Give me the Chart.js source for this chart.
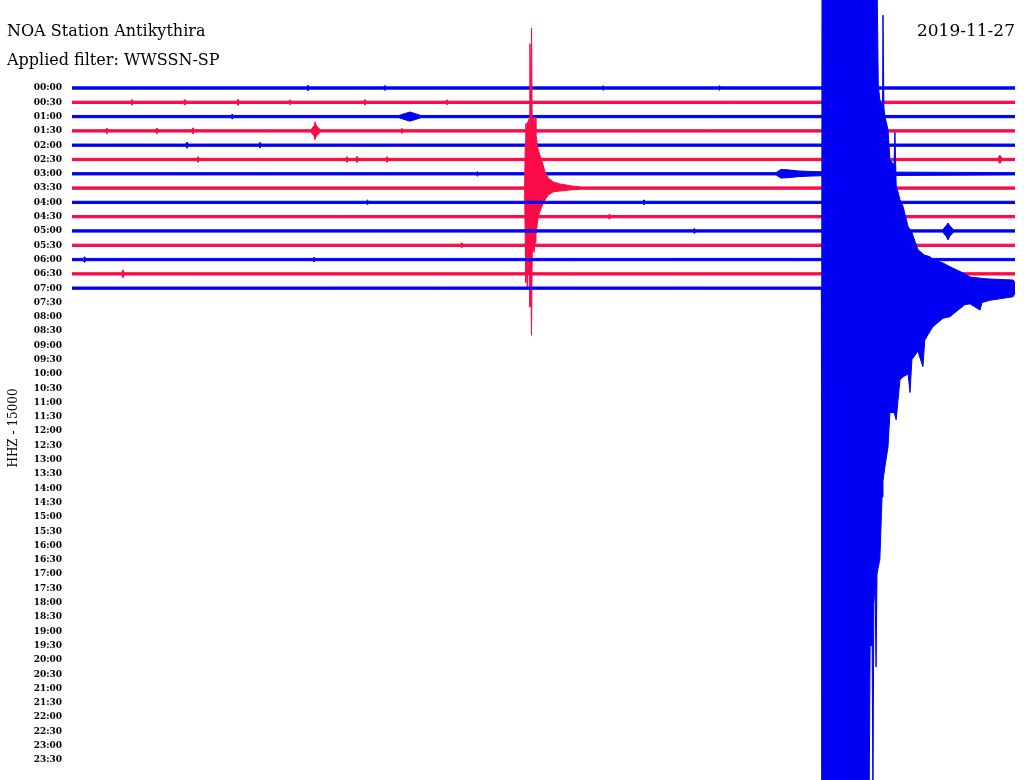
<!DOCTYPE html>
<html>
<head>
<meta charset="utf-8">
<title>NOA Station Antikythira</title>
<script src="https://cdn.jsdelivr.net/npm/chart.js@4"></script>
<style>
  body { margin: 0; background: #fff; }
  canvas { display: block; }
</style>
</head>
<body>
<canvas id="heli" width="1024" height="780"></canvas>
<script>
// Helicorder rows, one trace every 30 minutes
const rowLabels = [
  '00:00', '00:30', '01:00', '01:30', '02:00', '02:30', '03:00', '03:30',
  '04:00', '04:30', '05:00', '05:30', '06:00', '06:30', '07:00', '07:30',
  '08:00', '08:30', '09:00', '09:30', '10:00', '10:30', '11:00', '11:30',
  '12:00', '12:30', '13:00', '13:30', '14:00', '14:30', '15:00', '15:30',
  '16:00', '16:30', '17:00', '17:30', '18:00', '18:30', '19:00', '19:30',
  '20:00', '20:30', '21:00', '21:30', '22:00', '22:30', '23:00', '23:30'
];
const recordedRows = 15;      // 00:00 .. 07:00 have data
const rowMinutes = 30;
const noiseLevel = 0.08;      // background half-amplitude, in trace spacings

// short noise spikes on the quiet traces: row, minute, half-amplitude
const spikeRows = [0, 0, 0, 1, 1, 1, 1, 1, 1, 3, 3, 3, 3, 4, 4, 5, 5, 5, 5,
  8, 9, 11, 12, 13, 0, 2, 6, 8, 10, 12];
const spikeMin = [7.51, 9.96, 16.9, 1.91, 3.59, 5.28, 6.94, 9.32, 11.93, 1.11, 2.70, 3.85, 10.50,
  3.66, 5.98, 4.01, 8.75, 9.07, 10.02, 18.2, 17.1, 12.4, 0.4, 1.62, 20.6, 5.1, 12.9, 9.4, 19.8, 7.7];
const spikeAmp = [0.2, 0.18, 0.16, 0.2, 0.2, 0.22, 0.18, 0.2, 0.18, 0.2, 0.2, 0.22, 0.18,
  0.22, 0.2, 0.2, 0.2, 0.22, 0.2, 0.18, 0.18, 0.18, 0.2, 0.28, 0.16, 0.18, 0.16, 0.16, 0.18, 0.16];

// small local events: row, minutes into the row, amplitude above / below the trace
const blipRows = [2, 3, 5, 6, 10];
const blipMin = [
  [10.40, 10.60, 10.75, 10.90, 11.10],
  [7.60, 7.70, 7.73, 7.78, 7.90],
  [29.45, 29.52, 29.58],
  [22.40, 22.55, 22.75, 23.10, 23.50, 23.84],
  [27.70, 27.82, 27.87, 27.93, 28.05]
];
const blipUp = [
  [0.08, 0.22, 0.32, 0.22, 0.08],
  [0.08, 0.35, 0.64, 0.35, 0.08],
  [0.08, 0.30, 0.08],
  [0.08, 0.30, 0.28, 0.20, 0.16, 0.14],
  [0.08, 0.40, 0.56, 0.35, 0.08]
];
const blipDown = [
  [0.08, 0.22, 0.32, 0.22, 0.08],
  [0.08, 0.35, 0.59, 0.35, 0.08],
  [0.08, 0.28, 0.08],
  [0.08, 0.30, 0.28, 0.20, 0.16, 0.14],
  [0.08, 0.40, 0.63, 0.35, 0.08]
];

// regional earthquake on the 03:30 row
const quakeRow = 7;
const quakeMin = [14.40, 14.42, 14.44, 14.46, 14.48, 14.50, 14.52, 14.55, 14.57, 14.59,
  14.62, 14.64, 14.67, 14.70, 14.73, 14.76, 14.78, 14.83, 14.94, 15.05,
  15.15, 15.31, 15.52, 15.90, 16.20];
const quakeUp = [0.08, 3.0, 4.5, 3.8, 4.6, 4.0, 4.8, 4.3, 10.1, 5.0,
  11.2, 4.6, 4.9, 4.2, 4.97, 3.8, 3.4, 2.66, 1.96, 1.13,
  0.71, 0.43, 0.29, 0.15, 0.08];
const quakeDown = [0.08, 4.0, 6.6, 4.2, 7.0, 4.5, 6.0, 4.0, 8.3, 5.5,
  10.3, 4.6, 4.0, 4.5, 3.8, 3.3, 2.9, 2.0, 1.32, 0.83,
  0.48, 0.27, 0.20, 0.12, 0.08];

// large teleseism on the 07:00 row (clipped at the frame)
const mainRow = 14;
const mainMin = [23.84, 23.86, 25.36, 25.39, 25.42, 25.45, 25.48, 25.51, 25.55, 25.58,
  25.61, 25.65, 25.70, 25.77, 25.80, 25.83, 25.86, 25.96, 26.02, 26.15,
  26.18, 26.22, 26.34, 26.44, 26.60, 26.66, 26.72, 26.91, 27.07, 27.13,
  27.30, 27.39, 27.71, 27.93, 28.15, 28.41, 28.57, 28.89, 28.95, 29.20,
  29.94, 30.00];
const mainUp = [0.08, 22, 22, 22, 22, 22, 22, 22, 22, 22,
  22, 14.2, 13.2, 12.8, 19.1, 12.6, 12.0, 11.1, 9.0, 8.6,
  10.9, 7.2, 6.2, 5.7, 4.3, 4.1, 3.9, 2.7, 2.4, 2.3,
  2.2, 2.0, 1.76, 1.5, 1.27, 1.0, 0.78, 0.7, 0.68, 0.64,
  0.57, 0.4];
const mainDown = [0.08, 36, 36, 25, 25, 22, 36, 22, 21, 26.5,
  20, 19.5, 19.0, 14.6, 13.5, 13.0, 12.5, 11.1, 8.7, 8.7,
  8.9, 9.2, 6.4, 6.2, 6.0, 7.3, 5.0, 4.4, 5.5, 3.65,
  3.0, 2.7, 2.1, 2.0, 1.6, 1.15, 1.1, 1.53, 1.0, 0.85,
  0.6, 0.35];

const stationTitle = 'NOA Station Antikythira';
const filterTitle = 'Applied filter: WWSSN-SP';
const dateTitle = '2019-11-27';
const channelTitle = 'HHZ - 15000';

const blue = '#0000f5';
const red = '#fa0a46';

// collect samples per row
const rowEvents = [];
for (let r = 0; r < recordedRows; r++) rowEvents.push([]);
spikeRows.forEach((r, i) => {
  const m = spikeMin[i];
  rowEvents[r].push({ x: m - 0.04, up: noiseLevel, down: noiseLevel });
  rowEvents[r].push({ x: m, up: spikeAmp[i], down: spikeAmp[i] });
  rowEvents[r].push({ x: m + 0.04, up: noiseLevel, down: noiseLevel });
});
blipRows.forEach((r, i) => {
  blipMin[i].forEach((m, j) => rowEvents[r].push({ x: m, up: blipUp[i][j], down: blipDown[i][j] }));
});
quakeMin.forEach((m, j) => rowEvents[quakeRow].push({ x: m, up: quakeUp[j], down: quakeDown[j] }));
mainMin.forEach((m, j) => rowEvents[mainRow].push({ x: m, up: mainUp[j], down: mainDown[j] }));

const datasets = [];
for (let r = 0; r < recordedRows; r++) {
  const pts = rowEvents[r].slice().sort((a, b) => a.x - b.x);
  if (!pts.length || pts[0].x > 0) pts.unshift({ x: 0, up: noiseLevel, down: noiseLevel });
  if (pts[pts.length - 1].x < rowMinutes) pts.push({ x: rowMinutes, up: noiseLevel, down: noiseLevel });
  const col = r % 2 === 0 ? blue : red;
  const common = {
    borderColor: col,
    backgroundColor: col,
    borderWidth: 1,
    borderJoinStyle: 'bevel',
    pointRadius: 0,
    tension: 0,
    order: recordedRows - r   // later rows drawn on top
  };
  // upper envelope
  datasets.push(Object.assign({
    data: pts.map(p => ({ x: p.x, y: r - Math.max(p.up, noiseLevel) })),
    fill: false
  }, common));
  // lower envelope, filled up to the upper one
  datasets.push(Object.assign({
    data: pts.map(p => ({ x: p.x, y: r + Math.max(p.down, noiseLevel) })),
    fill: '-1'
  }, common));
}

// page texts
const heliText = {
  id: 'heliText',
  afterDraw(chart) {
    const ctx = chart.ctx;
    ctx.save();
    ctx.fillStyle = '#000';
    ctx.font = '16px "DejaVu Serif"';
    ctx.textBaseline = 'alphabetic';
    ctx.textAlign = 'left';
    ctx.fillText(stationTitle, 7, 36);
    ctx.fillText(filterTitle, 7, 65);
    ctx.textAlign = 'right';
    ctx.font = '17px "DejaVu Serif"';
    ctx.fillText(dateTitle, 1015, 36);
    ctx.translate(17, 428);
    ctx.rotate(-Math.PI / 2);
    ctx.textAlign = 'center';
    ctx.font = '12px "DejaVu Serif"';
    ctx.fillText(channelTitle, 0, 0);
    ctx.restore();
  }
};

new Chart(document.getElementById('heli'), {
  type: 'line',
  data: { datasets: datasets },
  options: {
    responsive: false,
    animation: false,
    events: [],
    layout: { padding: { left: 0, right: 9, top: 0, bottom: 0 } },
    plugins: {
      legend: { display: false },
      tooltip: { enabled: false },
      filler: { propagate: false }
    },
    scales: {
      x: {
        type: 'linear',
        min: 0,
        max: rowMinutes,
        display: false
      },
      y: {
        type: 'linear',
        reverse: true,
        min: -6.155,
        max: 48.4,
        grid: { display: false, drawTicks: false },
        border: { display: false },
        afterBuildTicks: scale => {
          scale.ticks = rowLabels.map((l, i) => ({ value: i }));
        },
        afterFit: scale => {
          scale.width = 72;
          scale.paddingTop = 0;
          scale.paddingBottom = 0;
        },
        ticks: {
          autoSkip: false,
          padding: 10,
          color: '#000',
          font: { family: 'DejaVu Serif', size: 9, weight: 'bold' },
          callback: v => rowLabels[v]
        }
      }
    }
  },
  plugins: [heliText]
});
</script>
</body>
</html>
